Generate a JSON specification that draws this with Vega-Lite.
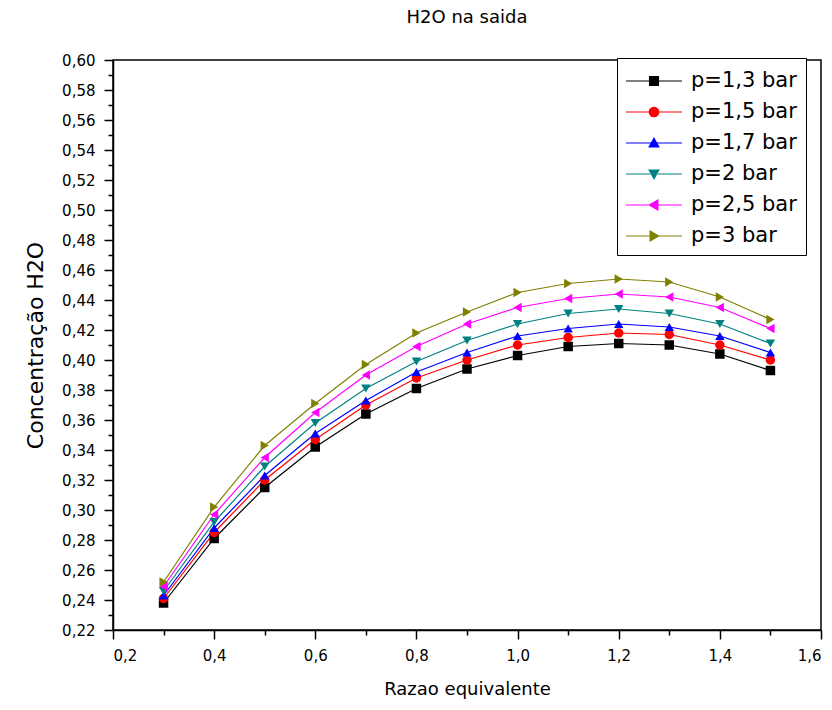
{
  "$schema": "https://vega.github.io/schema/vega-lite/v6.json",
  "autosize": "none",
  "width": 708,
  "height": 570,
  "padding": {"left": 113, "top": 60, "right": 11, "bottom": 80},
  "background": "white",
  "title": {"text": "H2O na saida", "fontSize": 18, "fontWeight": "normal", "font": "DejaVu Sans", "color": "#000000", "offset": 26},
  "config": {
    "view": {"stroke": "#000000", "strokeWidth": 1.5},
    "axis": {"domainColor": "#000000", "tickColor": "#000000", "labelColor": "#000000", "titleColor": "#000000", "labelFont": "DejaVu Sans", "labelFontSize": 15, "titleFont": "DejaVu Sans", "titleFontSize": 18, "titleFontWeight": "normal", "grid": false, "domainWidth": 1.5, "tickWidth": 1.5}
  },
  "data": {"values": [
    {"x":0.3,"p":"p=1,3 bar","y":0.238},{"x":0.4,"p":"p=1,3 bar","y":0.281},{"x":0.5,"p":"p=1,3 bar","y":0.315},{"x":0.6,"p":"p=1,3 bar","y":0.342},{"x":0.7,"p":"p=1,3 bar","y":0.364},{"x":0.8,"p":"p=1,3 bar","y":0.381},{"x":0.9,"p":"p=1,3 bar","y":0.394},{"x":1.0,"p":"p=1,3 bar","y":0.403},{"x":1.1,"p":"p=1,3 bar","y":0.409},{"x":1.2,"p":"p=1,3 bar","y":0.411},{"x":1.3,"p":"p=1,3 bar","y":0.410},{"x":1.4,"p":"p=1,3 bar","y":0.404},{"x":1.5,"p":"p=1,3 bar","y":0.393},
    {"x":0.3,"p":"p=1,5 bar","y":0.241},{"x":0.4,"p":"p=1,5 bar","y":0.285},{"x":0.5,"p":"p=1,5 bar","y":0.320},{"x":0.6,"p":"p=1,5 bar","y":0.347},{"x":0.7,"p":"p=1,5 bar","y":0.370},{"x":0.8,"p":"p=1,5 bar","y":0.388},{"x":0.9,"p":"p=1,5 bar","y":0.400},{"x":1.0,"p":"p=1,5 bar","y":0.410},{"x":1.1,"p":"p=1,5 bar","y":0.415},{"x":1.2,"p":"p=1,5 bar","y":0.418},{"x":1.3,"p":"p=1,5 bar","y":0.417},{"x":1.4,"p":"p=1,5 bar","y":0.410},{"x":1.5,"p":"p=1,5 bar","y":0.400},
    {"x":0.3,"p":"p=1,7 bar","y":0.243},{"x":0.4,"p":"p=1,7 bar","y":0.288},{"x":0.5,"p":"p=1,7 bar","y":0.323},{"x":0.6,"p":"p=1,7 bar","y":0.351},{"x":0.7,"p":"p=1,7 bar","y":0.373},{"x":0.8,"p":"p=1,7 bar","y":0.392},{"x":0.9,"p":"p=1,7 bar","y":0.405},{"x":1.0,"p":"p=1,7 bar","y":0.416},{"x":1.1,"p":"p=1,7 bar","y":0.421},{"x":1.2,"p":"p=1,7 bar","y":0.424},{"x":1.3,"p":"p=1,7 bar","y":0.422},{"x":1.4,"p":"p=1,7 bar","y":0.416},{"x":1.5,"p":"p=1,7 bar","y":0.405},
    {"x":0.3,"p":"p=2 bar","y":0.246},{"x":0.4,"p":"p=2 bar","y":0.292},{"x":0.5,"p":"p=2 bar","y":0.329},{"x":0.6,"p":"p=2 bar","y":0.358},{"x":0.7,"p":"p=2 bar","y":0.381},{"x":0.8,"p":"p=2 bar","y":0.399},{"x":0.9,"p":"p=2 bar","y":0.413},{"x":1.0,"p":"p=2 bar","y":0.424},{"x":1.1,"p":"p=2 bar","y":0.431},{"x":1.2,"p":"p=2 bar","y":0.434},{"x":1.3,"p":"p=2 bar","y":0.431},{"x":1.4,"p":"p=2 bar","y":0.424},{"x":1.5,"p":"p=2 bar","y":0.411},
    {"x":0.3,"p":"p=2,5 bar","y":0.249},{"x":0.4,"p":"p=2,5 bar","y":0.297},{"x":0.5,"p":"p=2,5 bar","y":0.335},{"x":0.6,"p":"p=2,5 bar","y":0.365},{"x":0.7,"p":"p=2,5 bar","y":0.390},{"x":0.8,"p":"p=2,5 bar","y":0.409},{"x":0.9,"p":"p=2,5 bar","y":0.424},{"x":1.0,"p":"p=2,5 bar","y":0.435},{"x":1.1,"p":"p=2,5 bar","y":0.441},{"x":1.2,"p":"p=2,5 bar","y":0.444},{"x":1.3,"p":"p=2,5 bar","y":0.442},{"x":1.4,"p":"p=2,5 bar","y":0.435},{"x":1.5,"p":"p=2,5 bar","y":0.421},
    {"x":0.3,"p":"p=3 bar","y":0.252},{"x":0.4,"p":"p=3 bar","y":0.302},{"x":0.5,"p":"p=3 bar","y":0.343},{"x":0.6,"p":"p=3 bar","y":0.371},{"x":0.7,"p":"p=3 bar","y":0.397},{"x":0.8,"p":"p=3 bar","y":0.418},{"x":0.9,"p":"p=3 bar","y":0.432},{"x":1.0,"p":"p=3 bar","y":0.445},{"x":1.1,"p":"p=3 bar","y":0.451},{"x":1.2,"p":"p=3 bar","y":0.454},{"x":1.3,"p":"p=3 bar","y":0.452},{"x":1.4,"p":"p=3 bar","y":0.442},{"x":1.5,"p":"p=3 bar","y":0.427}
  ]},
  "encoding": {
    "x": {"field": "x", "type": "quantitative", "scale": {"domain": [0.2, 1.6], "nice": false, "zero": false},
      "axis": {"title": "Razao equivalente", "titlePadding": 17, "labelFontSize": 15, "values": [0.2,0.3,0.4,0.5,0.6,0.7,0.8,0.9,1.0,1.1,1.2,1.3,1.4,1.5,1.6],
        "labelExpr": "round(datum.value*10)%2==0 ? replace(format(datum.value,'.1f'),'.',',') : ''",
        "tickSize": {"condition": {"test": "round(datum.value*10)%2==0", "value": 9}, "value": 5}, "labelPadding": 9}},
    "y": {"field": "y", "type": "quantitative", "scale": {"domain": [0.22, 0.6], "nice": false, "zero": false},
      "axis": {"title": "Concentração H2O", "titlePadding": 14, "titleFontSize": 22, "labelFontSize": 15,
        "values": [0.22,0.23,0.24,0.25,0.26,0.27,0.28,0.29,0.30,0.31,0.32,0.33,0.34,0.35,0.36,0.37,0.38,0.39,0.40,0.41,0.42,0.43,0.44,0.45,0.46,0.47,0.48,0.49,0.50,0.51,0.52,0.53,0.54,0.55,0.56,0.57,0.58,0.59,0.60],
        "labelExpr": "round(datum.value*100)%2==0 ? replace(format(datum.value,'.2f'),'.',',') : ''",
        "tickSize": {"condition": {"test": "round(datum.value*100)%2==0", "value": 9}, "value": 5}, "labelPadding": 9}},
    "color": {"field": "p", "type": "nominal", "title": null, "legend": null,
      "scale": {"domain": ["p=1,3 bar","p=1,5 bar","p=1,7 bar","p=2 bar","p=2,5 bar","p=3 bar"], "range": ["#000000","#ff0000","#0000ff","#008080","#ff00ff","#808000"]}}
  },
  "resolve": {"scale": {"shape": "independent", "fill": "independent"}, "legend": {"shape": "independent", "fill": "independent"}},
  "layer": [
    {"mark": {"type": "line", "strokeWidth": 1.2}},
    {"mark": {"type": "point", "filled": true, "size": 90, "opacity": 1},
      "encoding": {"shape": {"field": "p", "type": "nominal", "title": null, "legend": null,
        "scale": {"domain": ["p=1,3 bar","p=1,5 bar","p=1,7 bar","p=2 bar","p=2,5 bar","p=3 bar"], "range": ["square","circle","triangle-up","triangle-down","triangle-left","triangle-right"]}}}},
    {"mark": {"type": "point", "filled": true, "opacity": 0},
      "encoding": {
        "color": {"value": "transparent"},
        "fill": {"field": "p", "type": "nominal", "title": null,
          "scale": {"domain": ["p=1,3 bar","p=1,5 bar","p=1,7 bar","p=2 bar","p=2,5 bar","p=3 bar"], "range": ["#000000","#ff0000","#0000ff","#008080","#ff00ff","#808000"]},
          "legend": {"orient": "none", "legendX": 504, "legendY": -2, "strokeColor": "#000000", "padding": 9, "labelFont": "DejaVu Sans", "labelFontSize": 21, "labelColor": "#000000", "symbolSize": 784, "rowPadding": 7, "labelOffset": 37, "symbolStrokeWidth": 0, "symbolOpacity": 1, "fillColor": "white"}},
        "shape": {"field": "p", "type": "nominal", "title": null,
        "legend": {"orient": "none", "legendX": 504, "legendY": -2, "strokeColor": "#000000", "padding": 9, "labelFont": "DejaVu Sans", "labelFontSize": 21, "labelColor": "#000000", "symbolSize": 784, "rowPadding": 7, "labelOffset": 37, "symbolStrokeWidth": 0, "symbolOpacity": 1, "fillColor": "white"},
        "scale": {"domain": ["p=1,3 bar","p=1,5 bar","p=1,7 bar","p=2 bar","p=2,5 bar","p=3 bar"], "range": [
          "M-1,-0.04H0.66V0.04H-1Z M1.34,-0.04H3V0.04H1.34Z M0.64,-0.36H1.36V0.36H0.64Z",
          "M-1,-0.04H0.64V0.04H-1Z M1.36,-0.04H3V0.04H1.36Z M0.62,0A0.38,0.38 0 1,1 1.38,0A0.38,0.38 0 1,1 0.62,0Z",
          "M-1,-0.04H0.8V0.04H-1Z M1.2,-0.04H3V0.04H1.2Z M1,-0.42L1.42,0.32L0.58,0.32Z",
          "M-1,-0.04H0.8V0.04H-1Z M1.2,-0.04H3V0.04H1.2Z M1,0.42L1.42,-0.32L0.58,-0.32Z",
          "M-1,-0.04H0.6V0.04H-1Z M1.3,-0.04H3V0.04H1.3Z M0.58,0L1.32,-0.42L1.32,0.42Z",
          "M-1,-0.04H0.7V0.04H-1Z M1.4,-0.04H3V0.04H1.4Z M1.42,0L0.68,-0.42L0.68,0.42Z"
        ]}}}}
  ]
}
